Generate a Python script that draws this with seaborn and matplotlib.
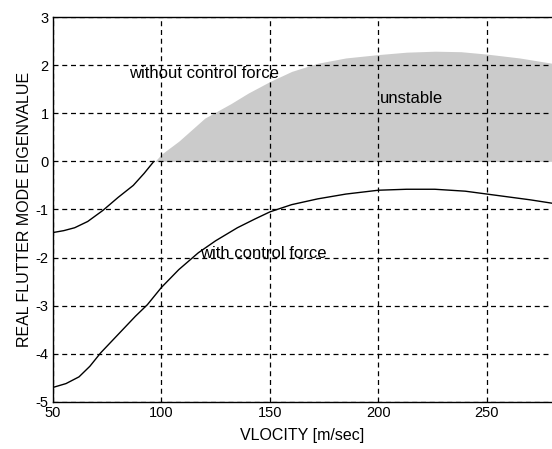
import numpy as np
import pandas as pd
import matplotlib
matplotlib.use("Agg")
import matplotlib.pyplot as plt
import seaborn as sns

# velocity [m/sec] and real eigenvalue
v_without = [50, 55, 60, 66, 73, 80, 87, 92, 96.5]
eig_without = [-1.48, -1.44, -1.38, -1.25, -1.02, -0.75, -0.5, -0.25, 0.0]

v_unstable = [97, 100, 108, 120, 132, 140, 150, 160, 172, 185, 200, 213, 226, 238, 250, 265, 280]
top_unstable = [0.0, 0.15, 0.42, 0.9, 1.2, 1.42, 1.66, 1.87, 2.04, 2.15, 2.22, 2.27, 2.29, 2.28, 2.23, 2.15, 2.04]

v_with = [50, 56, 62, 67, 72, 80, 88, 93.5, 100, 108, 117, 125, 135, 143, 150, 160,
          172, 185, 200, 213, 226, 240, 250, 260, 270, 280]
eig_with = [-4.7, -4.62, -4.48, -4.26, -3.98, -3.6, -3.22, -2.98, -2.62, -2.25, -1.9, -1.65, -1.38,
            -1.2, -1.05, -0.9, -0.78, -0.68, -0.6, -0.58, -0.58, -0.62, -0.68, -0.74, -0.8, -0.87]

x_ticks = [50, 100, 150, 200, 250]
y_ticks = [-5, -4, -3, -2, -1, 0, 1, 2, 3]

sns.set_theme(style="white")
plt.rcParams["font.family"] = ["Liberation Sans", "DejaVu Sans"]
plt.rcParams["axes.unicode_minus"] = False
plt.rcParams["text.color"] = "black"

fig = plt.figure(figsize=(5.52, 4.49), dpi=100)
ax = fig.add_axes([0.096, 0.105, 0.904, 0.857])

# unstable region
ax.fill_between(v_unstable, 0, top_unstable, color="#cbcbcb", linewidth=0, zorder=1)

df_without = pd.DataFrame({"v": v_without, "eig": eig_without})
df_with = pd.DataFrame({"v": v_with, "eig": eig_with})
sns.lineplot(data=df_without, x="v", y="eig", ax=ax, color="black", linewidth=1.0, zorder=3)
sns.lineplot(data=df_with, x="v", y="eig", ax=ax, color="black", linewidth=1.0, zorder=3)

ax.set_xlim(50, 280)
ax.set_ylim(-5, 3)
ax.set_xticks(x_ticks)
ax.set_yticks(y_ticks)
ax.tick_params(direction="in", length=3, labelsize=10.5, colors="black", pad=3)

ax.grid(True, color="black", linestyle=(0, (4, 3)), linewidth=0.9, zorder=2)
ax.set_axisbelow(False)
for side in ["left", "bottom", "top"]:
    ax.spines[side].set_color("black")
    ax.spines[side].set_linewidth(1.0)
ax.spines["right"].set_visible(False)

ax.set_xlabel("VLOCITY [m/sec]", fontsize=11.5, color="black", labelpad=6)
ax.set_ylabel("REAL FLUTTER MODE EIGENVALUE", fontsize=11.5, color="black", labelpad=3)

ax.text(85, 1.83, "without control force", fontsize=12, va="center", ha="left", zorder=4)
ax.text(215, 1.3, "unstable", fontsize=12, va="center", ha="center", zorder=4)
ax.text(118, -1.92, "with control force", fontsize=12, va="center", ha="left", zorder=4)

fig.savefig("out.png", dpi=100)
